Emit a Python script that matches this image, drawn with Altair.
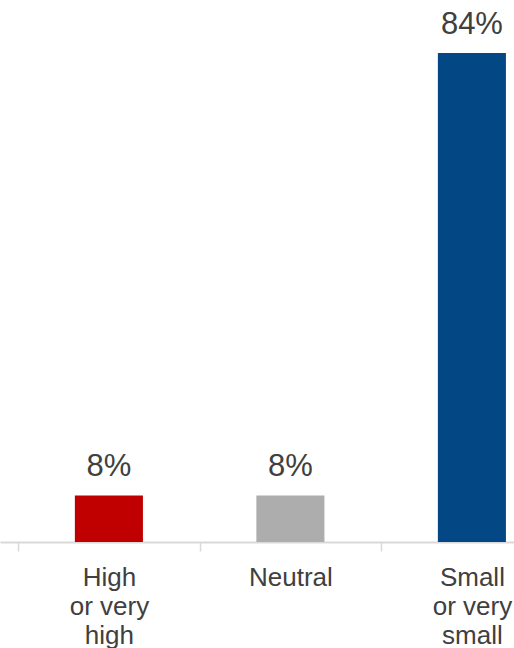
import altair as alt
import pandas as pd

# Share of responses by perceived level
categories = ["High\nor very\nhigh", "Neutral", "Small\nor very\nsmall"]
values = [8, 8, 84]
colors = ["#C00000", "#ADADAD", "#034884"]

df = pd.DataFrame({
    "category": categories,
    "value": values,
    "label": [f"{v}%" for v in values],
})

FONT = "Liberation Sans"
TEXT_COLOR = "#404040"

x = alt.X(
    "category:N",
    sort=categories,
    scale=alt.Scale(range=[0, 580.8], paddingInner=0, paddingOuter=0.1),
    axis=alt.Axis(
        title=None,
        labelAngle=0,
        labelExpr="isString(datum.value) ? split(datum.value, '\\n') : ''",
        labelFont=FONT,
        labelFontSize=26,
        labelColor=TEXT_COLOR,
        labelLineHeight=29,
        labelPadding=13,
        labelBaseline="top",
        tickBand="extent",
        tickSize=9,
        tickColor="#D9D9D9",
        tickWidth=1.5,
        domainColor="#D9D9D9",
        domainWidth=2,
        grid=False,
    ),
)
y = alt.Y(
    "value:Q",
    scale=alt.Scale(domain=[0, 93.1], nice=False),
    axis=None,
)

bars = alt.Chart(df).mark_bar(width=alt.RelativeBandSize(0.375)).encode(
    x=x,
    y=y,
    color=alt.Color("category:N", scale=alt.Scale(domain=categories, range=colors), legend=None),
)

labels = alt.Chart(df).mark_text(
    font=FONT, fontSize=31, color=TEXT_COLOR, baseline="alphabetic", dy=-19
).encode(
    x=alt.X("category:N", sort=categories),
    y="value:Q",
    text="label:N",
)

chart = (
    alt.layer(bars, labels)
    .properties(
        width=514,
        height=542,
        padding={"left": 0, "top": 0, "right": 0, "bottom": 106},
        autosize=alt.AutoSizeParams(type="none"),
    )
    .configure_view(stroke=None)
)

chart.save("out.html", embed_options={"renderer": "svg", "actions": False})
